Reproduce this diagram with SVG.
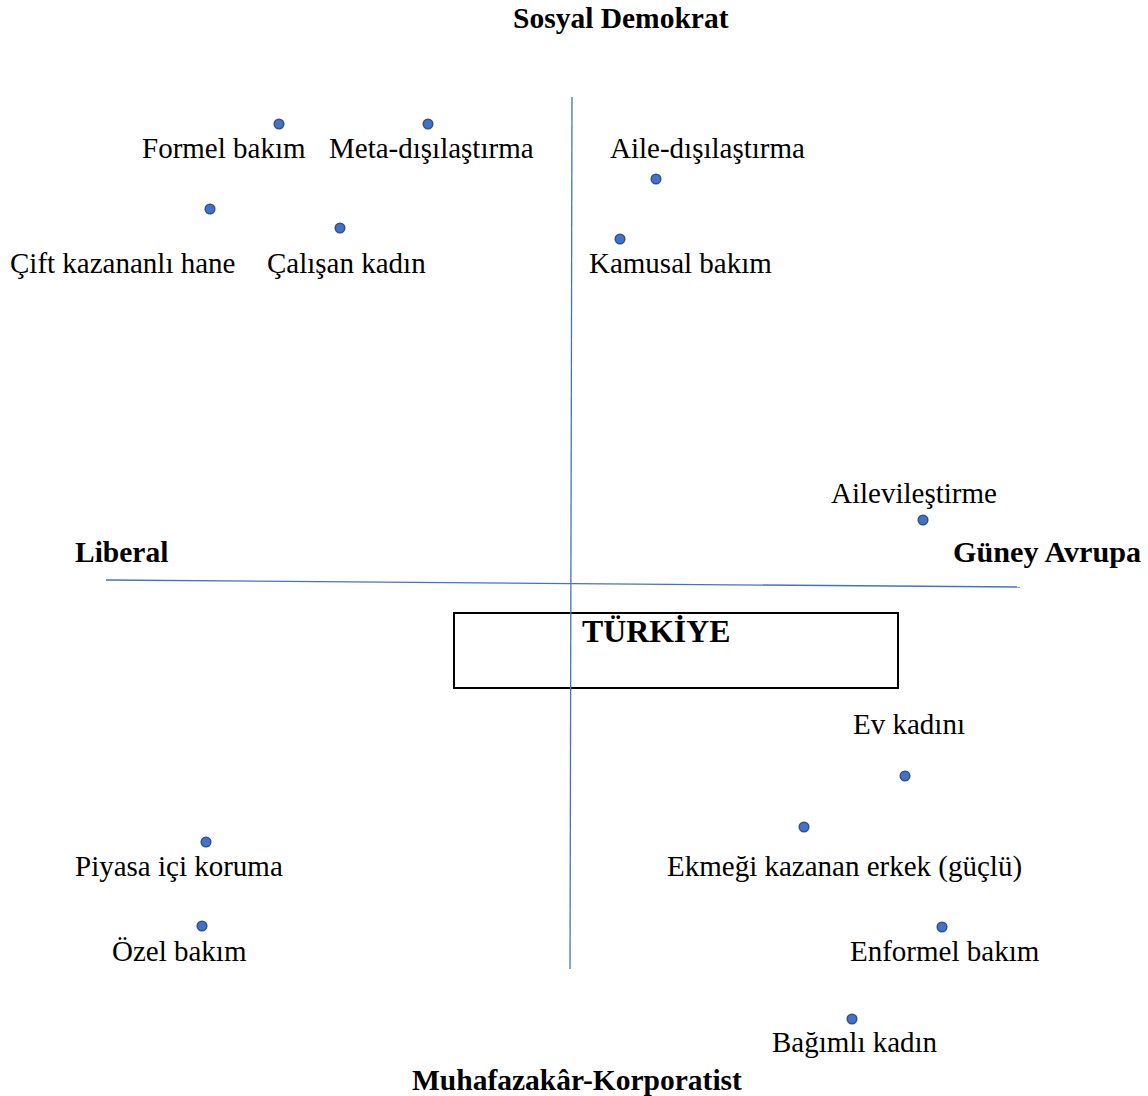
<svg xmlns="http://www.w3.org/2000/svg" width="1148" height="1096" viewBox="0 0 1148 1096">
<style>
text{font-family:"Liberation Serif","Times New Roman",serif;font-size:29px;fill:#000}
.b{font-weight:bold;font-size:29.5px}
.dot{fill:#4472C4;stroke:#2F528F;stroke-width:1.5}
.axis{stroke:#4472C4;stroke-width:1.3;fill:none}
</style>
<rect width="1148" height="1096" fill="#fff"/>
<g id="turkiye">
<rect x="454" y="613" width="444" height="75" fill="none" stroke="#000" stroke-width="2"/>
<text class="b" x="582" y="642" style="font-size:31.8px">TÜRKİYE</text>
</g>
<g id="connectors">
<line class="axis" x1="572" y1="97" x2="570" y2="969"/>
<line class="axis" x1="106" y1="580" x2="1020" y2="587"/>
</g>
<g id="axis-labels">
<text class="b" x="513" y="28">Sosyal Demokrat</text>
<text class="b" x="75" y="562">Liberal</text>
<text class="b" x="953" y="562" style="font-size:30.2px">Güney Avrupa</text>
<text class="b" x="412" y="1090">Muhafazakâr-Korporatist</text>
</g>
<g id="formel-bakim"><circle class="dot" cx="279" cy="124" r="4.8"/><text x="142" y="158">Formel bakım</text></g>
<g id="meta-disilastirma"><circle class="dot" cx="428" cy="124" r="4.8"/><text x="329" y="158">Meta-dışılaştırma</text></g>
<g id="aile-disilastirma"><circle class="dot" cx="656" cy="179" r="4.8"/><text x="610" y="158">Aile-dışılaştırma</text></g>
<g id="cift-kazananli-hane"><circle class="dot" cx="210" cy="209" r="4.8"/><text x="10" y="273">Çift kazananlı hane</text></g>
<g id="calisan-kadin"><circle class="dot" cx="340" cy="228" r="4.8"/><text x="267" y="273">Çalışan kadın</text></g>
<g id="kamusal-bakim"><circle class="dot" cx="620" cy="239" r="4.8"/><text x="589" y="273">Kamusal bakım</text></g>
<g id="ailevilestirme"><circle class="dot" cx="923" cy="520" r="4.8"/><text x="831" y="503">Ailevileştirme</text></g>
<g id="ev-kadini"><circle class="dot" cx="905" cy="776" r="4.8"/><text x="853" y="734">Ev kadını</text></g>
<g id="ekmegi-kazanan-erkek"><circle class="dot" cx="804" cy="827" r="4.8"/><text x="667" y="876">Ekmeği kazanan erkek (güçlü)</text></g>
<g id="piyasa-ici-koruma"><circle class="dot" cx="206" cy="842" r="4.8"/><text x="75" y="876">Piyasa içi koruma</text></g>
<g id="ozel-bakim"><circle class="dot" cx="202" cy="926" r="4.8"/><text x="112" y="961">Özel bakım</text></g>
<g id="enformel-bakim"><circle class="dot" cx="942" cy="927" r="4.8"/><text x="850" y="961">Enformel bakım</text></g>
<g id="bagimli-kadin"><circle class="dot" cx="852" cy="1019" r="4.8"/><text x="772" y="1052">Bağımlı kadın</text></g>
</svg>
